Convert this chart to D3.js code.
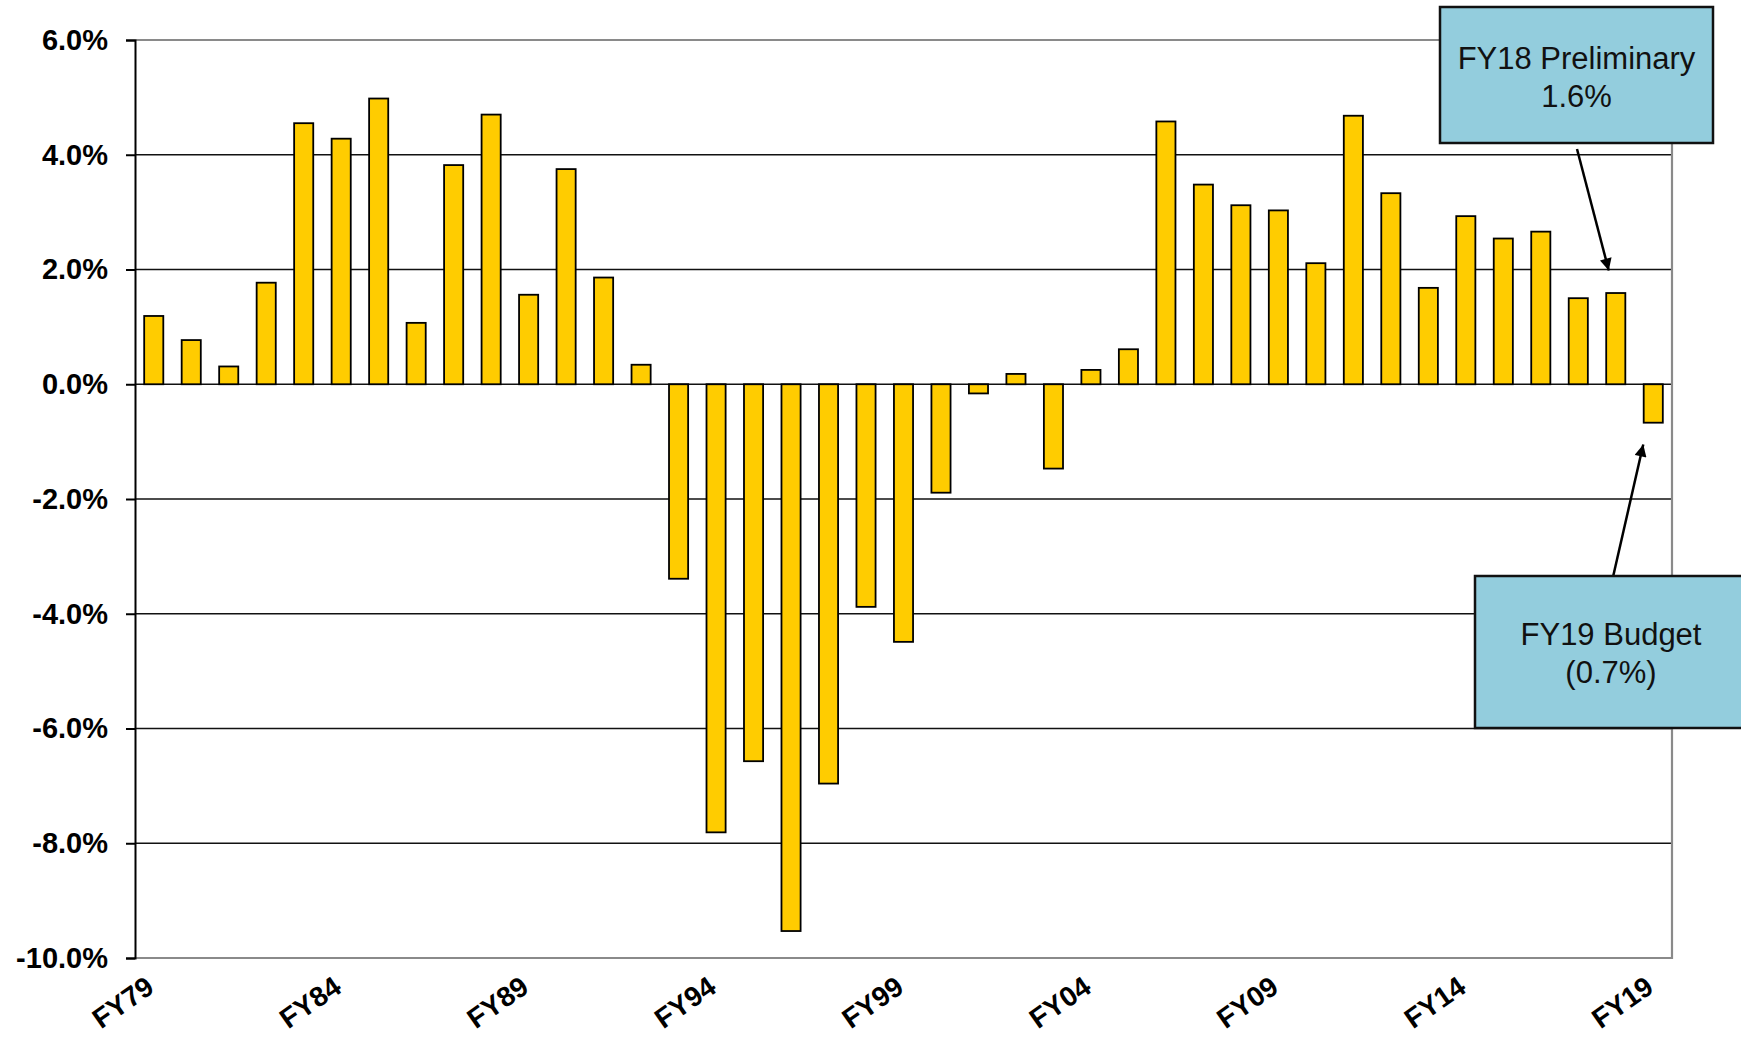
<!DOCTYPE html>
<html>
<head>
	<meta charset="utf-8">
	<script src="https://d3js.org/d3.v7.min.js"></script>
	<title>FY growth</title>
	<style>
		body { margin: 0; background: #fff; }
		svg { display: block; font-family: "Liberation Sans", Arial, sans-serif; }
	</style>
</head>
<body>
	<svg></svg>
	<script>
		const width = 1741;
		const height = 1037;

		const years = [
			"FY79", "FY80", "FY81", "FY82", "FY83", "FY84", "FY85", "FY86", "FY87", "FY88",
			"FY89", "FY90", "FY91", "FY92", "FY93", "FY94", "FY95", "FY96", "FY97", "FY98",
			"FY99", "FY00", "FY01", "FY02", "FY03", "FY04", "FY05", "FY06", "FY07", "FY08",
			"FY09", "FY10", "FY11", "FY12", "FY13", "FY14", "FY15", "FY16", "FY17", "FY18",
			"FY19"
		];
		const growth = [
			1.19, 0.77, 0.31, 1.77, 4.55, 4.28, 4.98, 1.07, 3.82, 4.70,
			1.56, 3.75, 1.86, 0.34, -3.39, -7.81, -6.57, -9.53, -6.96, -3.88,
			-4.49, -1.89, -0.16, 0.18, -1.47, 0.25, 0.61, 4.58, 3.48, 3.12,
			3.03, 2.11, 4.68, 3.33, 1.68, 2.93, 2.54, 2.66, 1.50, 1.59,
			-0.67
		];
		const yTicks = [6, 4, 2, 0, -2, -4, -6, -8, -10];
		const xLabels = ["FY79", "FY84", "FY89", "FY94", "FY99", "FY04", "FY09", "FY14", "FY19"];

		// callouts: two lines of text each
		const notes = [
			{year: "FY18", lines: ["FY18 Preliminary", "1.6%"]},
			{year: "FY19", lines: ["FY19 Budget", "(0.7%)"]}
		];

		const plotLeft = 135, plotRight = 1672, plotTop = 40, plotBottom = 958;

		const svg = d3.select("svg")
			.attr("width", width)
			.attr("height", height);

		const x = d3.scaleBand()
			.domain(years)
			.range([plotLeft, plotRight])
			.paddingInner(0.49)
			.paddingOuter(0.245);

		const y = d3.scaleLinear()
			.domain([-10, 6])
			.range([plotBottom, plotTop]);

		// gridlines
		svg.append("g")
			.selectAll("line")
			.data(yTicks.filter(d => d < 6 && d > -10))
			.join("line")
			.attr("x1", plotLeft)
			.attr("x2", plotRight)
			.attr("y1", d => y(d))
			.attr("y2", d => y(d))
			.attr("stroke", "#111")
			.attr("stroke-width", 1.6);

		// plot frame (top, right, bottom)
		svg.append("path")
			.attr("d", `M${plotLeft},${y(6)}H${plotRight}V${y(-10)}H${plotLeft}`)
			.attr("fill", "none")
			.attr("stroke", "#8a8a8a")
			.attr("stroke-width", 2.2);

		// bars
		svg.append("g")
			.selectAll("rect")
			.data(years.map((d, i) => ({year: d, value: growth[i]})))
			.join("rect")
			.attr("x", d => x(d.year))
			.attr("width", x.bandwidth())
			.attr("y", d => y(Math.max(0, d.value)))
			.attr("height", d => Math.abs(y(d.value) - y(0)))
			.attr("fill", "#ffcc00")
			.attr("stroke", "#000")
			.attr("stroke-width", 1.8);

		// y axis
		const yAxis = svg.append("g")
			.attr("transform", `translate(${plotLeft},0)`)
			.call(d3.axisLeft(y)
				.tickValues(yTicks)
				.tickSize(9)
				.tickPadding(18)
				.tickFormat(d => d.toFixed(1) + "%"));

		yAxis.select(".domain").attr("stroke", "#000").attr("stroke-width", 2);
		yAxis.selectAll(".tick line").attr("stroke", "#000").attr("stroke-width", 2);
		yAxis.selectAll(".tick text")
			.attr("fill", "#000")
			.attr("font-size", 29)
			.attr("font-weight", "bold")
			.attr("font-family", "Liberation Sans, Arial, sans-serif");

		// x labels
		svg.append("g")
			.selectAll("text")
			.data(xLabels)
			.join("text")
			.attr("transform", d => `translate(${x(d) + x.bandwidth() / 2 + 2},${plotBottom + 33}) rotate(-35)`)
			.attr("text-anchor", "end")
			.attr("font-size", 28)
			.attr("font-weight", "bold")
			.text(d => d);

		// arrows
		svg.append("defs").append("marker")
			.attr("id", "head")
			.attr("viewBox", "0 0 10 10")
			.attr("refX", 10)
			.attr("refY", 5)
			.attr("markerWidth", 15)
			.attr("markerHeight", 12)
			.attr("markerUnits", "userSpaceOnUse")
			.attr("orient", "auto")
			.append("path")
			.attr("d", "M0,0L10,5L0,10Z")
			.attr("fill", "#000");

		const boxes = [
			{x: 1440, y: 7, w: 273, h: 136, from: [1577, 149], to: [x("FY18") + x.bandwidth() / 2 - 7, y(2) + 1], base: [62, 100]},
			{x: 1475, y: 576, w: 272, h: 152, from: [1613, 577], to: [x("FY19") + x.bandwidth() / 2 - 10, y(-1.05)], base: [69, 107]}
		];

		svg.append("g")
			.selectAll("line")
			.data(boxes)
			.join("line")
			.attr("x1", d => d.from[0])
			.attr("y1", d => d.from[1])
			.attr("x2", d => d.to[0])
			.attr("y2", d => d.to[1])
			.attr("stroke", "#000")
			.attr("stroke-width", 2.5)
			.attr("marker-end", "url(#head)");

		const note = svg.append("g")
			.selectAll("g")
			.data(boxes)
			.join("g")
			.attr("transform", d => `translate(${d.x},${d.y})`);

		note.append("rect")
			.attr("width", d => d.w)
			.attr("height", d => d.h)
			.attr("fill", "#93cddd")
			.attr("stroke", "#111")
			.attr("stroke-width", 2.5);

		note.each(function(d, i) {
			d3.select(this).selectAll("text")
				.data(notes[i].lines)
				.join("text")
				.attr("x", d.w / 2)
				.attr("y", (t, j) => d.base[j])
				.attr("text-anchor", "middle")
				.attr("font-size", 31)
				.attr("fill", "#111")
				.text(t => t);
		});
	</script>
</body>
</html>
